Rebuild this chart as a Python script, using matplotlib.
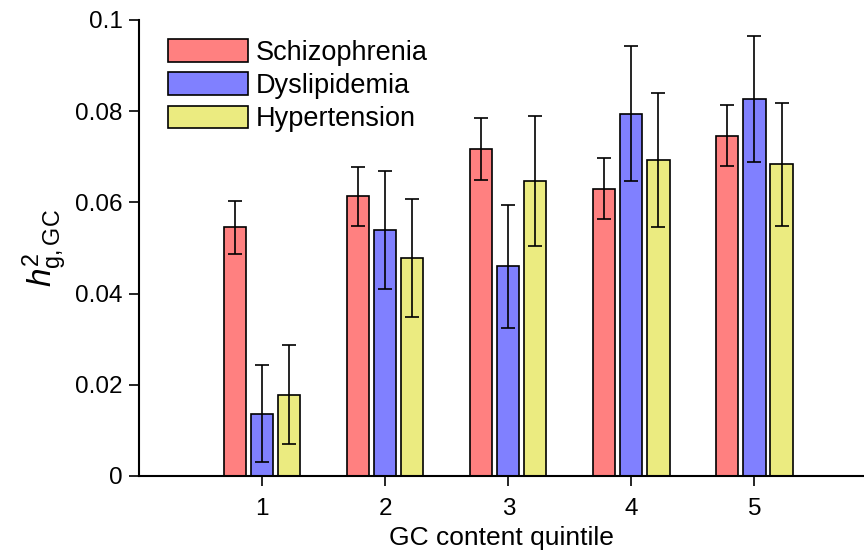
import matplotlib
matplotlib.use("Agg")
import matplotlib.pyplot as plt
import numpy as np

plt.rcParams['font.family'] = ['Liberation Sans', 'DejaVu Sans']
plt.rcParams['mathtext.fontset'] = 'custom'
plt.rcParams['mathtext.rm'] = 'Liberation Sans'
plt.rcParams['mathtext.it'] = 'Liberation Sans:italic'

quintiles = [1, 2, 3, 4, 5]
series = ["Schizophrenia", "Dyslipidemia", "Hypertension"]
colors = ["#FF8080", "#8080FF", "#EBEB80"]

scz = [0.0546, 0.0614, 0.0717, 0.0630, 0.0746]
scz_lo = [0.0487, 0.0548, 0.0649, 0.0563, 0.0680]
scz_hi = [0.0603, 0.0678, 0.0785, 0.0697, 0.0814]

dys = [0.0136, 0.0540, 0.0461, 0.0794, 0.0826]
dys_lo = [0.0031, 0.0410, 0.0325, 0.0647, 0.0689]
dys_hi = [0.0243, 0.0669, 0.0594, 0.0943, 0.0964]

hyp = [0.0178, 0.0478, 0.0647, 0.0693, 0.0684]
hyp_lo = [0.0070, 0.0349, 0.0504, 0.0545, 0.0548]
hyp_hi = [0.0287, 0.0607, 0.0789, 0.0840, 0.0818]

values = [scz, dys, hyp]
lows = [scz_lo, dys_lo, hyp_lo]
highs = [scz_hi, dys_hi, hyp_hi]

fig = plt.figure(figsize=(8.64, 5.54), dpi=100)
ax = fig.add_axes([0.161, 0.1408, 0.839, 0.8232])

x = np.array(quintiles, dtype=float)
offsets = [-0.22, 0.0, 0.22]
width = 0.18
for vals, lo, hi, col, lab, off in zip(values, lows, highs, colors, series, offsets):
    vals = np.array(vals); lo = np.array(lo); hi = np.array(hi)
    ax.bar(x + off, vals, width=width, color=col, edgecolor='black', linewidth=1.2, label=lab, zorder=2)
    ax.errorbar(x + off, vals, yerr=[vals - lo, hi - vals], fmt='none', ecolor='black',
                elinewidth=1.2, capsize=5, capthick=1.2, zorder=3)

ax.set_xlim(0, 5.89)
ax.set_ylim(0, 0.1)
ax.set_yticks([0, 0.02, 0.04, 0.06, 0.08, 0.1])
ax.set_yticklabels(["0", "0.02", "0.04", "0.06", "0.08", "0.1"])
ax.set_xticks(quintiles)
ax.set_xticklabels([str(q) for q in quintiles])
for s in ['top', 'right']:
    ax.spines[s].set_visible(False)
for s in ['left', 'bottom']:
    ax.spines[s].set_linewidth(1.5)
ax.tick_params(axis='both', direction='out', length=7, width=1.2, labelsize=17.5)
ax.tick_params(axis='x', pad=9)
ax.tick_params(axis='y', pad=5)

ax.set_xlabel("GC content quintile", fontsize=19, labelpad=4)
ax.set_ylabel(r"$h^2_{\mathrm{g,GC}}$", fontsize=24, labelpad=4)

ax.legend(loc='upper left', bbox_to_anchor=(0.04, 0.958), frameon=False, fontsize=19.5,
          handlelength=2.95, handleheight=0.9, handletextpad=0.3, labelspacing=0.25,
          borderpad=0, borderaxespad=0)

fig.savefig("out.png", dpi=100)
